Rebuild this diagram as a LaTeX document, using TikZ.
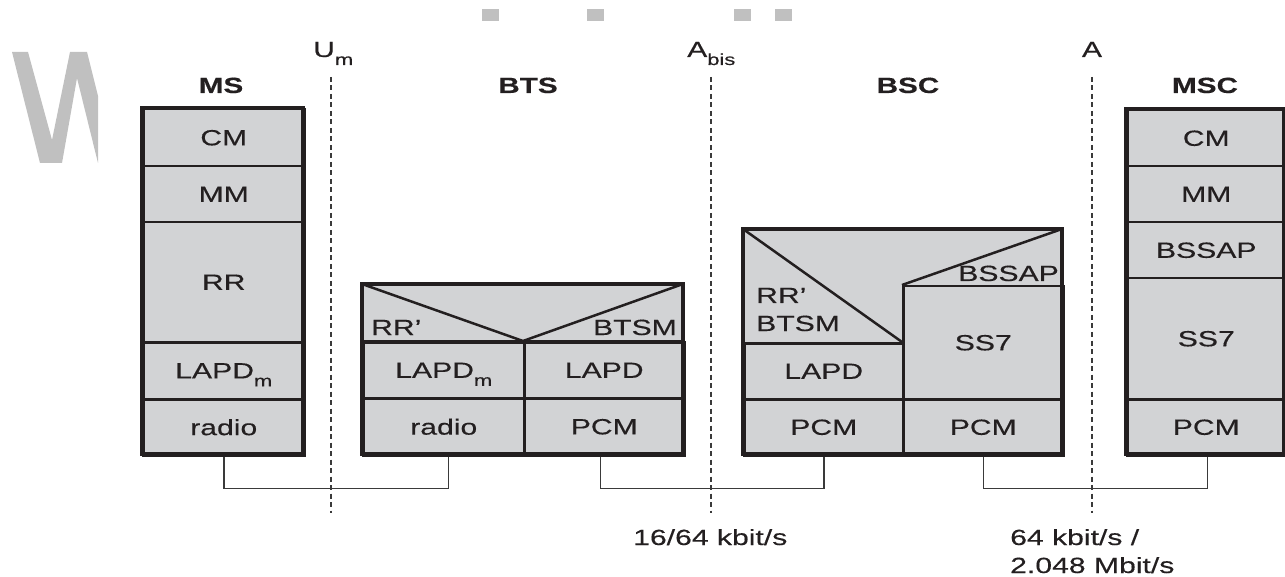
\documentclass[tikz,border=0pt]{standalone}
\usepackage{fontspec}
\setmainfont{Liberation Sans}[FakeStretch=1.37, FakeBold=0.3]
\newfontfamily\headfont{Liberation Sans Bold}[FakeStretch=1.35, FakeBold=0.3]
\definecolor{cellc}{HTML}{D2D3D5}
\definecolor{linec}{HTML}{231F20}
\definecolor{linkc}{HTML}{3A3A3A}
\definecolor{markc}{HTML}{C0C0C0}
\newcommand{\lbl}{\fontsize{22pt}{26pt}\selectfont}
\newcommand{\subm}[1]{\smash{\raisebox{-8pt}{\fontsize{16pt}{16pt}\selectfont #1}}}
\tikzset{
  cell/.style={draw=linec, fill=cellc, line width=2.5pt, rectangle, inner sep=0pt,
               anchor=north west, font=\lbl, text=linec},
  outerbox/.style={draw=linec, line width=3.5pt},
  divline/.style={draw=linec, line width=2.5pt},
  txt/.style={font=\lbl, text=linec, inner sep=0pt},
  head/.style={font=\lbl\headfont, text=linec, inner sep=0pt, anchor=base},
  link/.style={draw=linkc, line width=1.5pt},
  iface/.style={draw=linkc, line width=2pt, dash pattern=on 5pt off 3.5pt},
}
\begin{document}
\begin{tikzpicture}[x=1pt, y=-1pt]
\useasboundingbox (0,0) rectangle (1285,577);

% watermark remnants
\fill[markc] (12,52) -- (28,52) -- (52,140) -- (70,52) -- (87,52) -- (98,96) -- (98,163)
   -- (77,78) -- (62,163) -- (40,163) -- cycle;
\fill[markc] (482,9) rectangle (499,21);
\fill[markc] (587,9) rectangle (604,21);
\fill[markc] (734,9) rectangle (751,21);
\fill[markc] (775,9) rectangle (792,21);

% ---------- headings ----------
\node[head] (hms)  at (221,93)  {MS};
\node[head] (hbts) at (528,93)  {BTS};
\node[head] (hbsc) at (908,93)  {BSC};
\node[head] (hmsc) at (1205,93) {MSC};

% ---------- interfaces ----------
\node[txt, anchor=base west] (ium)   at (313,57) {U\subm{m}};
\node[txt, anchor=base west] (iabis) at (687,57) {A\subm{bis}};
\node[txt, anchor=base]      (ia)    at (1092,57) {A};
\coordinate (umtop) at (331,77);   \coordinate (umbot) at (331,513);
\coordinate (abtop) at (711,77);   \coordinate (abbot) at (711,513);
\coordinate (atop)  at (1092,77);  \coordinate (abot)  at (1092,513);
\draw[iface] (umtop) -- (umbot);
\draw[iface] (abtop) -- (abbot);
\draw[iface] (atop) -- (abot);

% ---------- MS ----------
\node[cell, minimum width=161pt, minimum height=57pt]  (mscm)  at (142,108) {CM};
\node[cell, minimum width=161pt, minimum height=56pt]  (msmm)  at (142,165) {MM};
\node[cell, minimum width=161pt, minimum height=120pt] (msrr)  at (142,221) {RR};
\node[cell, minimum width=161pt, minimum height=57pt]  (mslap) at (142,341) {LAPD\subm{m}};
\node[cell, minimum width=161pt, minimum height=56pt]  (msrad) at (142,398) {radio};
\draw[outerbox] (142,108) rectangle (303,454);

% ---------- BTS ----------
\fill[cellc] (362,284) rectangle (683,341);
\draw[divline] (362,341) -- (683,341);
\draw[divline] (362,284) -- (523,341) -- (683,284);
\node[txt, anchor=base west] (btsrr)   at (371,335) {RR’};
\node[txt, anchor=base east] (btsbtsm) at (677,335) {BTSM};
\node[cell, minimum width=161pt, minimum height=56pt] (btslap) at (362,341) {LAPD\subm{m}};
\node[cell, minimum width=161pt, minimum height=57pt] (btsrad) at (362,397) {radio};
\node[cell, minimum width=160pt, minimum height=56pt] (btslapd) at (523,341) {LAPD};
\node[cell, minimum width=160pt, minimum height=57pt] (btspcm) at (523,397) {PCM};
\draw[outerbox] (362,284) rectangle (683,454);

% ---------- BSC ----------
\fill[cellc] (743,229) rectangle (1062,342);
\draw[divline] (743,229) -- (902,342);
\draw[divline] (902,285) -- (1062,229);
\node[txt, anchor=base west] (bscrr)   at (756,303) {RR’};
\node[txt, anchor=base west] (bscbtsm) at (756,331) {BTSM};
\node[txt, anchor=base east] (bscbssap) at (1059,281) {BSSAP};
\node[cell, minimum width=159pt, minimum height=56pt]  (bsclapd) at (743,342) {LAPD};
\node[cell, minimum width=159pt, minimum height=56pt]  (bscpcml) at (743,398) {PCM};
\node[cell, minimum width=160pt, minimum height=113pt] (bscss7)  at (902,285) {SS7};
\node[cell, minimum width=160pt, minimum height=56pt]  (bscpcmr) at (902,398) {PCM};
\draw[outerbox] (743,229) rectangle (1062,454);

% ---------- MSC ----------
\node[cell, minimum width=158pt, minimum height=56pt]  (msccm)  at (1126,109) {CM};
\node[cell, minimum width=158pt, minimum height=56pt]  (mscmm)  at (1126,165) {MM};
\node[cell, minimum width=158pt, minimum height=56pt]  (mscbss) at (1126,221) {BSSAP};
\node[cell, minimum width=158pt, minimum height=121pt] (mscss7) at (1126,277) {SS7};
\node[cell, minimum width=158pt, minimum height=56pt]  (mscpcm) at (1126,398) {PCM};
\draw[outerbox] (1126,109) rectangle (1284,454);

% ---------- physical links ----------
\draw[link] (msrad.south) -- ++(0,32) -| ([xshift=4.5pt]btsrad.south);
\draw[link] ([xshift=-4pt]btspcm.south) -- ++(0,32) -| (bscpcml.south);
\draw[link] (bscpcmr.south) -- ++(0,32) -| ([xshift=1pt]mscpcm.south);

% ---------- rates ----------
\node[txt, anchor=base west] (rate1) at (633,545) {16/64 kbit/s};
\node[txt, anchor=base west] (rate2) at (1010,545) {64 kbit/s /};
\node[txt, anchor=base west] (rate3) at (1010,573) {2.048 Mbit/s};
\end{tikzpicture}
\end{document}
